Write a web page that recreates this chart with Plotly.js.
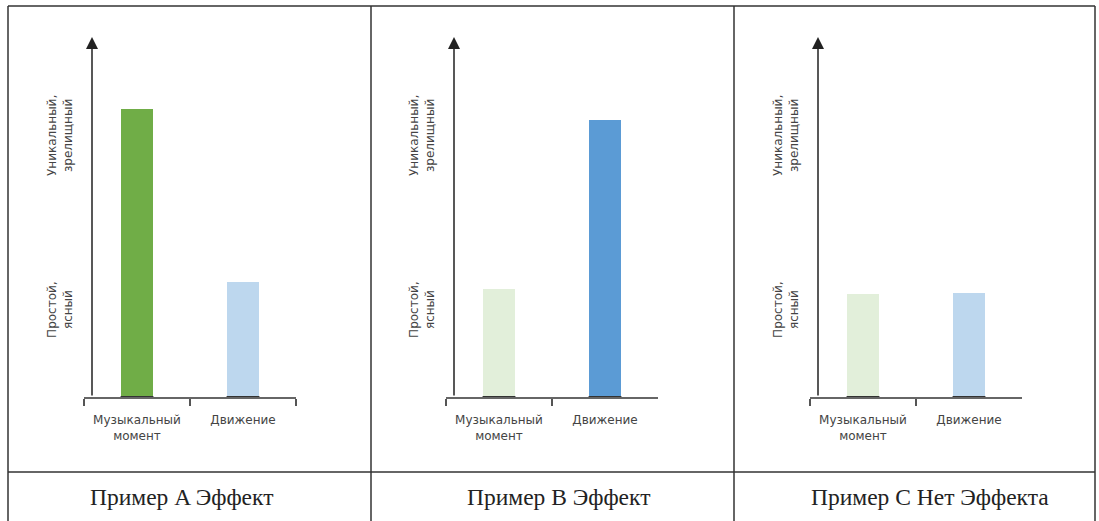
<!DOCTYPE html>
<html>
<head>
<meta charset="utf-8">
<script src="https://cdn.plot.ly/plotly-3.0.1.min.js"></script>
<style>
  html, body { margin: 0; padding: 0; background: #fff; }
  #chart { width: 1099px; height: 521px; }
</style>
</head>
<body>
<div id="chart"></div>
<script>
// ---- data ----
const categories = ['Музыкальный<br>момент', 'Движение'];
const panelTitles = ['Пример A Эффект', 'Пример B Эффект', 'Пример C Нет Эффекта'];
const valuesA = [8.0, 3.2];
const valuesB = [3.0, 7.7];
const valuesC = [2.85, 2.9];
const colorsA = ['#70ad47', '#bdd7ee'];
const colorsB = ['#e2efda', '#5b9bd5'];
const colorsC = ['#e2efda', '#bdd7ee'];
const yLabelHigh = 'Уникальный,<br>зрелищный';
const yLabelLow = 'Простой,<br>ясный';
const yLabelHighPos = 7.25;
const yLabelLowPos = 2.42;
const yMax = 10;

// ---- layout helpers ----
const W = 1099, H = 521;
const px = v => v / W;
const py = v => 1 - v / H;
const panelLeft = [84, 446, 810];
const panelWidth = 212;
const baseY = 397, topY = 37;
const captionX = [181, 558, 930];
const captionY = 497;
const barWidth = 0.31;
const series = [valuesA, valuesB, valuesC];
const colors = [colorsA, colorsB, colorsC];

const traces = [];
const shapes = [];
const annotations = [];
const layout = {
  width: W, height: H,
  margin: {l: 0, r: 0, t: 0, b: 0},
  paper_bgcolor: '#fff', plot_bgcolor: 'rgba(0,0,0,0)',
  showlegend: false,
  bargap: 0,
  font: {family: 'DejaVu Sans', color: '#444'}
};

series.forEach((vals, i) => {
  const n = i === 0 ? '' : String(i + 1);
  const xa = 'x' + n, ya = 'y' + n;
  traces.push({
    type: 'bar', x: categories, y: vals, width: barWidth,
    marker: {color: colors[i], line: {width: 0}},
    xaxis: xa, yaxis: ya, hoverinfo: 'skip'
  });
  layout['xaxis' + n] = {
    domain: [px(panelLeft[i]), px(panelLeft[i] + panelWidth)],
    anchor: ya, type: 'category', range: [-0.5, 1.5],
    tickson: 'boundaries', ticks: 'outside', ticklen: 7, tickwidth: 1.5, tickcolor: '#555',
    ticklabelstandoff: 11,
    showline: true, linecolor: '#666', linewidth: 1.5,
    showgrid: false, zeroline: false, fixedrange: true,
    tickfont: {family: 'DejaVu Sans', size: 12, color: '#444'}
  };
  layout['yaxis' + n] = {
    domain: [1 - baseY / H, 1 - topY / H], anchor: xa,
    range: [0, yMax], visible: false, showgrid: false, zeroline: false, fixedrange: true
  };
  // dark base segments under bars
  vals.forEach((v, k) => {
    shapes.push({type: 'line', xref: xa, yref: ya, x0: k - barWidth / 2, x1: k + barWidth / 2,
      y0: 0, y1: 0, line: {color: '#333', width: 2}, layer: 'above'});
  });
  // vertical axis with arrow
  const axX = -0.5 + 8 / (panelWidth / 2);
  annotations.push({
    xref: xa, yref: ya, axref: xa, ayref: ya,
    x: axX, y: yMax, ax: axX, ay: 0, text: '', showarrow: true,
    arrowhead: 2, arrowsize: 1.6, arrowwidth: 1.5, arrowcolor: '#222'
  });
  // y labels
  const labX = px(panelLeft[i] + 8 - 32);
  [[yLabelHigh, yLabelHighPos], [yLabelLow, yLabelLowPos]].forEach(([t, yv]) => {
    annotations.push({
      xref: 'paper', yref: ya, x: labX, y: yv, text: t, showarrow: false,
      textangle: -90, xanchor: 'center', yanchor: 'middle',
      font: {family: 'DejaVu Sans', size: 12, color: '#444'}
    });
  });
  // captions
  annotations.push({
    xref: 'paper', yref: 'paper', x: px(captionX[i]), y: py(captionY),
    text: panelTitles[i], showarrow: false, xanchor: 'center', yanchor: 'middle',
    font: {family: 'Liberation Serif', size: 23.5, color: '#222'}
  });
});

// table borders
const border = {color: '#333', width: 1.5};
const line = (x0, y0, x1, y1) => ({type: 'line', xref: 'paper', yref: 'paper',
  x0: px(x0), y0: py(y0), x1: px(x1), y1: py(y1), line: border});
shapes.push(line(8, 6, 1095, 6));
shapes.push(line(8, 6, 8, 521));
shapes.push(line(1095, 6, 1095, 521));
shapes.push(line(371, 6, 371, 521));
shapes.push(line(734, 6, 734, 521));
shapes.push(line(8, 472, 1095, 472));

layout.shapes = shapes;
layout.annotations = annotations;

Plotly.newPlot('chart', traces, layout, {displayModeBar: false, staticPlot: true});
</script>
</body>
</html>
